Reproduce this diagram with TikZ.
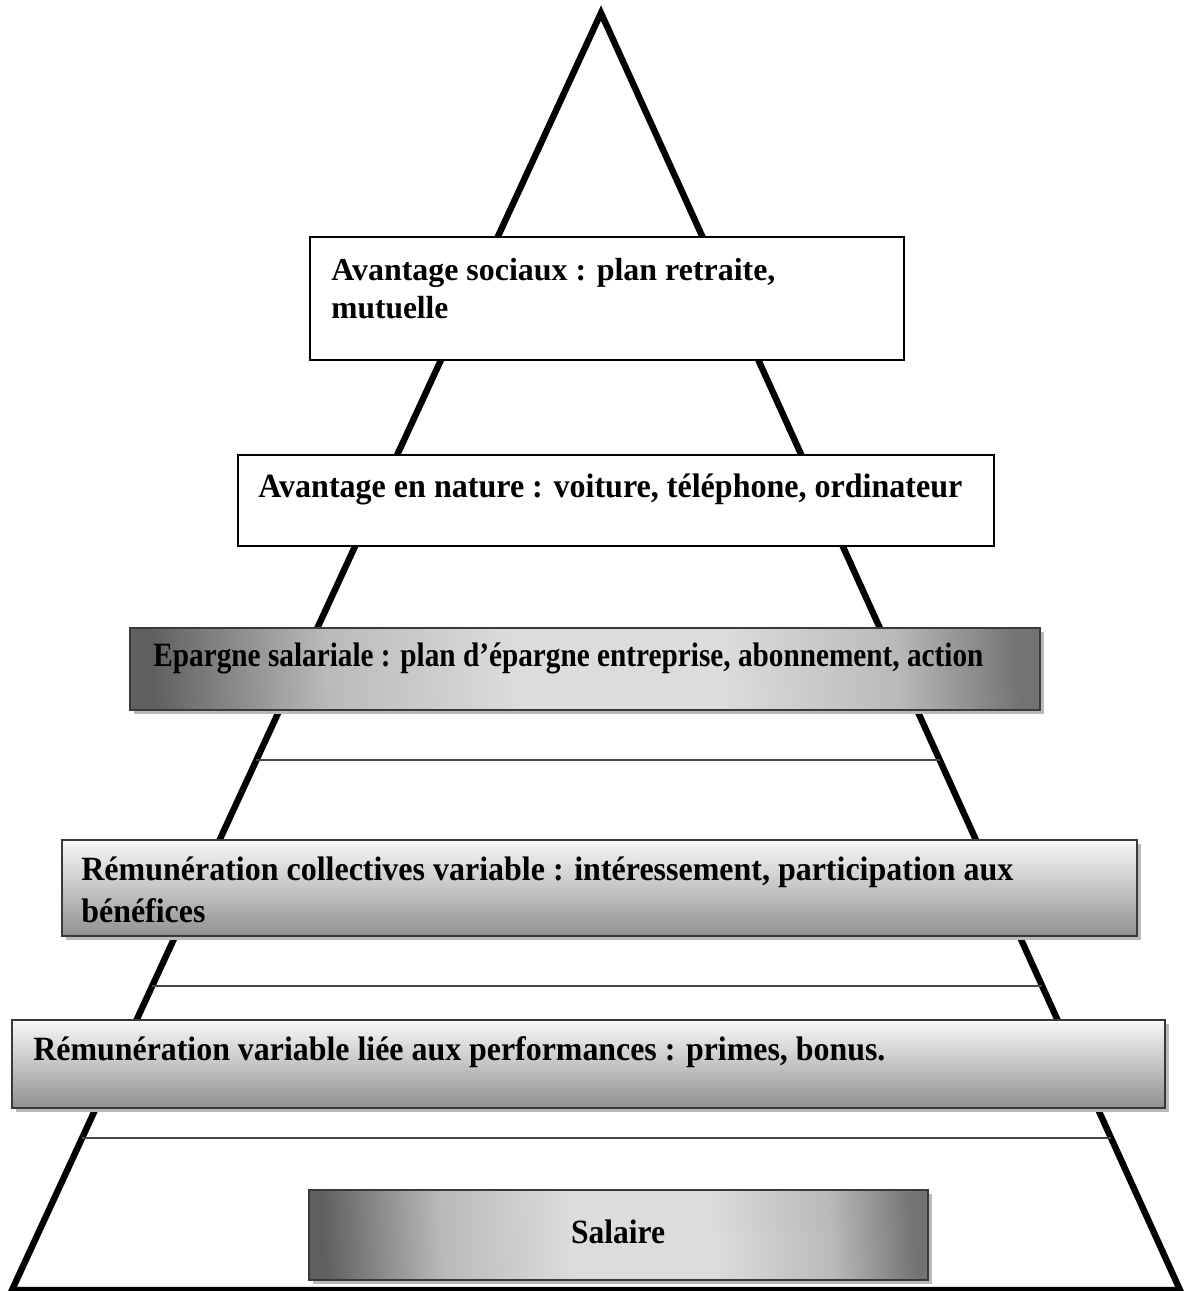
\documentclass[tikz,border=0pt]{standalone}
\usepackage{fontspec}
\setmainfont{Liberation Serif}
\usepackage{graphicx}
\usetikzlibrary{calc,fit}
\newcommand{\fitline}[2]{\resizebox{#1}{\height}{#2}}
\definecolor{gdark}{RGB}{95,95,95}
\definecolor{gright}{RGB}{115,115,115}
\definecolor{gmid}{RGB}{145,145,145}
\definecolor{gsoft}{RGB}{185,185,185}
\definecolor{glight}{RGB}{220,220,220}
\definecolor{gwhite}{RGB}{248,248,248}
\pgfdeclarehorizontalshading{sideshade}{100bp}{color(0bp)=(gdark); color(25bp)=(gdark); color(35bp)=(gsoft); color(46bp)=(glight); color(58bp)=(glight); color(68bp)=(gsoft); color(75bp)=(gright); color(100bp)=(gright)}
\begin{document}
\begin{tikzpicture}[x=0.5pt,y=-0.5pt,
  edge/.style={line width=3.2pt, line join=miter},
  rule/.style={line width=1pt, draw=gray!55!black},
  plainbox/.style={draw=black, line width=1pt, fill=white, inner sep=0pt},
  grbox/.style={draw=gray!45!black, line width=0.8pt, inner sep=0pt},
  sidebox/.style={grbox, shading=sideshade, shading angle=3},
  vertbox/.style={grbox, top color=gwhite, bottom color=gmid},
  shadowfill/.style={fill=gray!55, draw=none},
  lbl/.style={anchor=base west, inner sep=0pt, font=\fontsize{16}{19}\selectfont\bfseries},
  tall/.style={font=\fontsize{17}{20}\selectfont\bfseries},
]
\clip (0,0) rectangle (1187,1291);
\fill[white] (0,0) rectangle (1187,1291);
% pyramid
\coordinate (apex) at (601,13);
\coordinate (bl) at (12,1290);
\coordinate (br) at (1180,1290);
\draw[edge] (bl) -- (apex) -- (br) -- cycle;
% rules
\draw[rule] ($(apex)!0.585!(bl)$) -- ($(apex)!0.585!(br)$);
\draw[rule] ($(apex)!0.762!(bl)$) -- ($(apex)!0.762!(br)$);
\draw[rule] ($(apex)!0.881!(bl)$) -- ($(apex)!0.881!(br)$);
% box 1
\node[plainbox, fit={(310,237) (904,360)}] (b1) {};
\node[lbl] (t1a) at (331,280) {\fitline{222pt}{Avantage sociaux : plan retraite,}};
\node[lbl] (t1b) at (331,318) {\fitline{58.5pt}{mutuelle}};
% box 2
\node[plainbox, fit={(238,455) (994,546)}] (b2) {};
\node[lbl, tall] (t2) at (258,497) {\fitline{352pt}{Avantage en nature : voiture, téléphone, ordinateur}};
% box 3
\fill[shadowfill] (134,632) rectangle (1044,714);
\node[sidebox, fit={(130,628) (1040,710)}] (b3) {};
\node[lbl, tall] (t3) at (153,666) {\fitline{415pt}{Epargne salariale : plan d’épargne entreprise, abonnement, action}};
% box 4
\fill[shadowfill] (66,844) rectangle (1141,940);
\node[vertbox, fit={(62,840) (1137,936)}] (b4) {};
\node[lbl, tall] (t4a) at (81,880) {\fitline{466pt}{Rémunération collectives variable : intéressement, participation aux}};
\node[lbl, tall] (t4b) at (81,922) {\fitline{62pt}{bénéfices}};
% box 5
\fill[shadowfill] (16,1024) rectangle (1169,1112);
\node[vertbox, fit={(12,1020) (1165,1108)}] (b5) {};
\node[lbl, tall] (t5) at (33,1060) {\fitline{426pt}{Rémunération variable liée aux performances : primes, bonus.}};
% box 6
\fill[shadowfill] (313,1194) rectangle (932,1284);
\node[sidebox, fit={(309,1190) (928,1280)}] (b6) {};
\node[lbl, tall, anchor=base] (t6) at (618,1243) {\fitline{47pt}{Salaire}};
\end{tikzpicture}
\end{document}
